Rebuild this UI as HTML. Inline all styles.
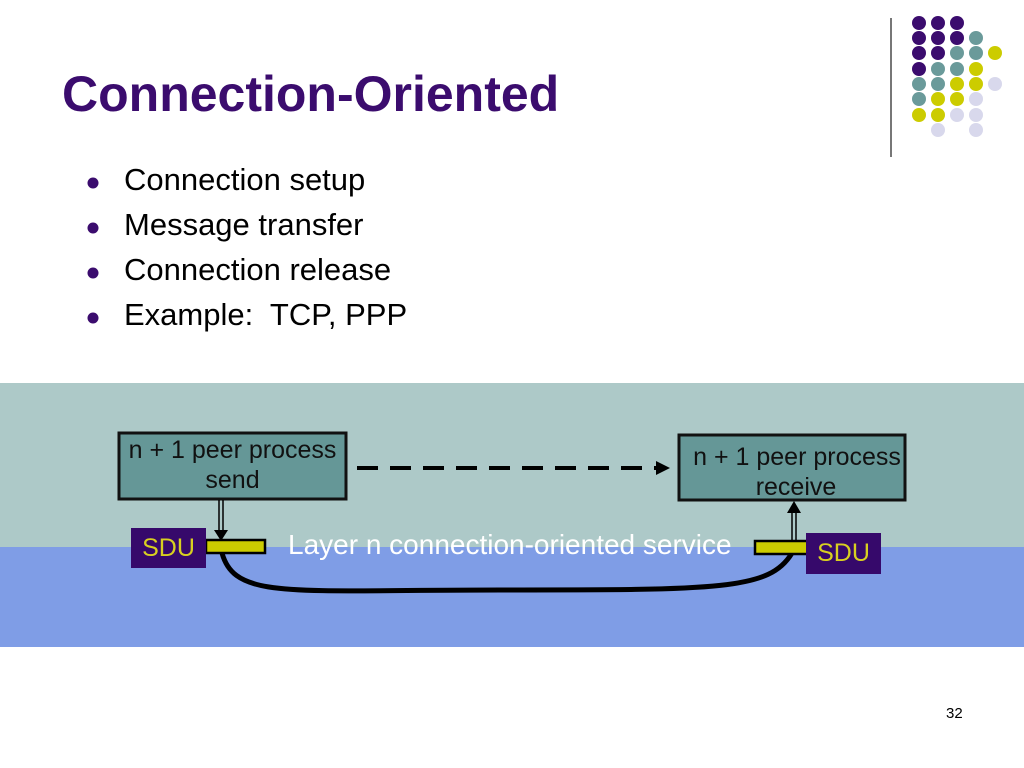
<!DOCTYPE html>
<html><head><meta charset="utf-8"><style>
body{margin:0;width:1024px;height:768px;overflow:hidden;background:#fff;font-family:"Liberation Sans",sans-serif;position:relative}
.a{position:absolute}
</style></head><body>
<div class="a" style="left:0;top:383px;width:1024px;height:164px;background:#adc9c8"></div>
<div class="a" style="left:0;top:547px;width:1024px;height:100px;background:#7f9de6"></div>
<div class="a" style="left:62px;top:69px;font-size:50px;line-height:50px;font-weight:bold;color:#3b0c6e;white-space:nowrap">Connection-Oriented</div>
<div class="a" style="left:890px;top:18px;width:2px;height:139px;background:#777"></div>
<div class="a" style="left:124px;top:157px;font-size:31px;line-height:45px;color:#000;white-space:nowrap">
Connection setup<br>Message transfer<br>Connection release<br>Example:&nbsp; TCP, PPP</div>
<svg class="a" style="left:0;top:0" width="1024" height="768">
<g fill="#3b0c6e"><circle cx="93" cy="183" r="5.5"/><circle cx="93" cy="228" r="5.5"/><circle cx="93" cy="273" r="5.5"/><circle cx="93" cy="318" r="5.5"/></g>
<g>
<circle cx="919" cy="23" r="7" fill="#3b0c6e"/><circle cx="938" cy="23" r="7" fill="#3b0c6e"/><circle cx="957" cy="23" r="7" fill="#3b0c6e"/>
<circle cx="919" cy="38" r="7" fill="#3b0c6e"/><circle cx="938" cy="38" r="7" fill="#3b0c6e"/><circle cx="957" cy="38" r="7" fill="#3b0c6e"/><circle cx="976" cy="38" r="7" fill="#6a9a9a"/>
<circle cx="919" cy="53" r="7" fill="#3b0c6e"/><circle cx="938" cy="53" r="7" fill="#3b0c6e"/><circle cx="957" cy="53" r="7" fill="#6a9a9a"/><circle cx="976" cy="53" r="7" fill="#6a9a9a"/><circle cx="995" cy="53" r="7" fill="#cccc00"/>
<circle cx="919" cy="69" r="7" fill="#3b0c6e"/><circle cx="938" cy="69" r="7" fill="#6a9a9a"/><circle cx="957" cy="69" r="7" fill="#6a9a9a"/><circle cx="976" cy="69" r="7" fill="#cccc00"/>
<circle cx="919" cy="84" r="7" fill="#6a9a9a"/><circle cx="938" cy="84" r="7" fill="#6a9a9a"/><circle cx="957" cy="84" r="7" fill="#cccc00"/><circle cx="976" cy="84" r="7" fill="#cccc00"/><circle cx="995" cy="84" r="7" fill="#d8d8ec"/>
<circle cx="919" cy="99" r="7" fill="#6a9a9a"/><circle cx="938" cy="99" r="7" fill="#cccc00"/><circle cx="957" cy="99" r="7" fill="#cccc00"/><circle cx="976" cy="99" r="7" fill="#d8d8ec"/>
<circle cx="919" cy="115" r="7" fill="#cccc00"/><circle cx="938" cy="115" r="7" fill="#cccc00"/><circle cx="957" cy="115" r="7" fill="#d8d8ec"/><circle cx="976" cy="115" r="7" fill="#d8d8ec"/>
<circle cx="938" cy="130" r="7" fill="#d8d8ec"/><circle cx="976" cy="130" r="7" fill="#d8d8ec"/>
</g>
<rect x="119" y="433" width="227" height="66" fill="#659797" stroke="#111" stroke-width="3"/>
<rect x="679" y="435" width="226" height="65" fill="#659797" stroke="#111" stroke-width="3"/>
<line x1="357" y1="468" x2="658" y2="468" stroke="#000" stroke-width="4" stroke-dasharray="21,12"/>
<polygon points="656,461 670,468 656,475" fill="#000"/>
<path d="M222 553 C 235 600, 290 590, 500 590 C 720 590, 770 590, 792 553" fill="none" stroke="#000" stroke-width="5"/>
<rect x="206" y="540" width="59" height="13" fill="#cccc00" stroke="#000" stroke-width="2.5"/>
<rect x="755" y="541" width="53" height="13" fill="#cccc00" stroke="#000" stroke-width="2.5"/>
<line x1="219" y1="500" x2="219" y2="532" stroke="#000" stroke-width="1.5"/>
<line x1="223" y1="500" x2="223" y2="532" stroke="#000" stroke-width="1.5"/>
<polygon points="214,530 228,530 221,541" fill="#000"/>
<line x1="792" y1="512" x2="792" y2="541" stroke="#000" stroke-width="1.5"/>
<line x1="796" y1="512" x2="796" y2="541" stroke="#000" stroke-width="1.5"/>
<polygon points="787,513 801,513 794,501" fill="#000"/>
<rect x="131" y="528" width="75" height="40" fill="#36096b"/>
<rect x="806" y="533" width="75" height="41" fill="#36096b"/>
</svg>
<div class="a" style="left:109px;top:435px;width:247px;text-align:center;font-size:25px;line-height:30px;color:#111;white-space:nowrap">n + 1 peer process<br>send</div>
<div class="a" style="left:683px;top:442px;width:240px;text-align:center;font-size:25px;line-height:30px;color:#111;white-space:nowrap"><span style="margin-left:-12px">n + 1 peer process</span><br><span style="margin-left:-14px">receive</span></div>
<div class="a" style="left:126px;top:534px;width:85px;text-align:center;font-size:25px;color:#d8d020">SDU</div>
<div class="a" style="left:801px;top:539px;width:85px;text-align:center;font-size:25px;color:#d8d020">SDU</div>
<div class="a" style="left:288px;top:529px;font-size:28px;color:#fff;white-space:nowrap">Layer n connection-oriented service</div>
<div class="a" style="left:946px;top:705px;font-size:15px;color:#000">32</div>
</body></html>
